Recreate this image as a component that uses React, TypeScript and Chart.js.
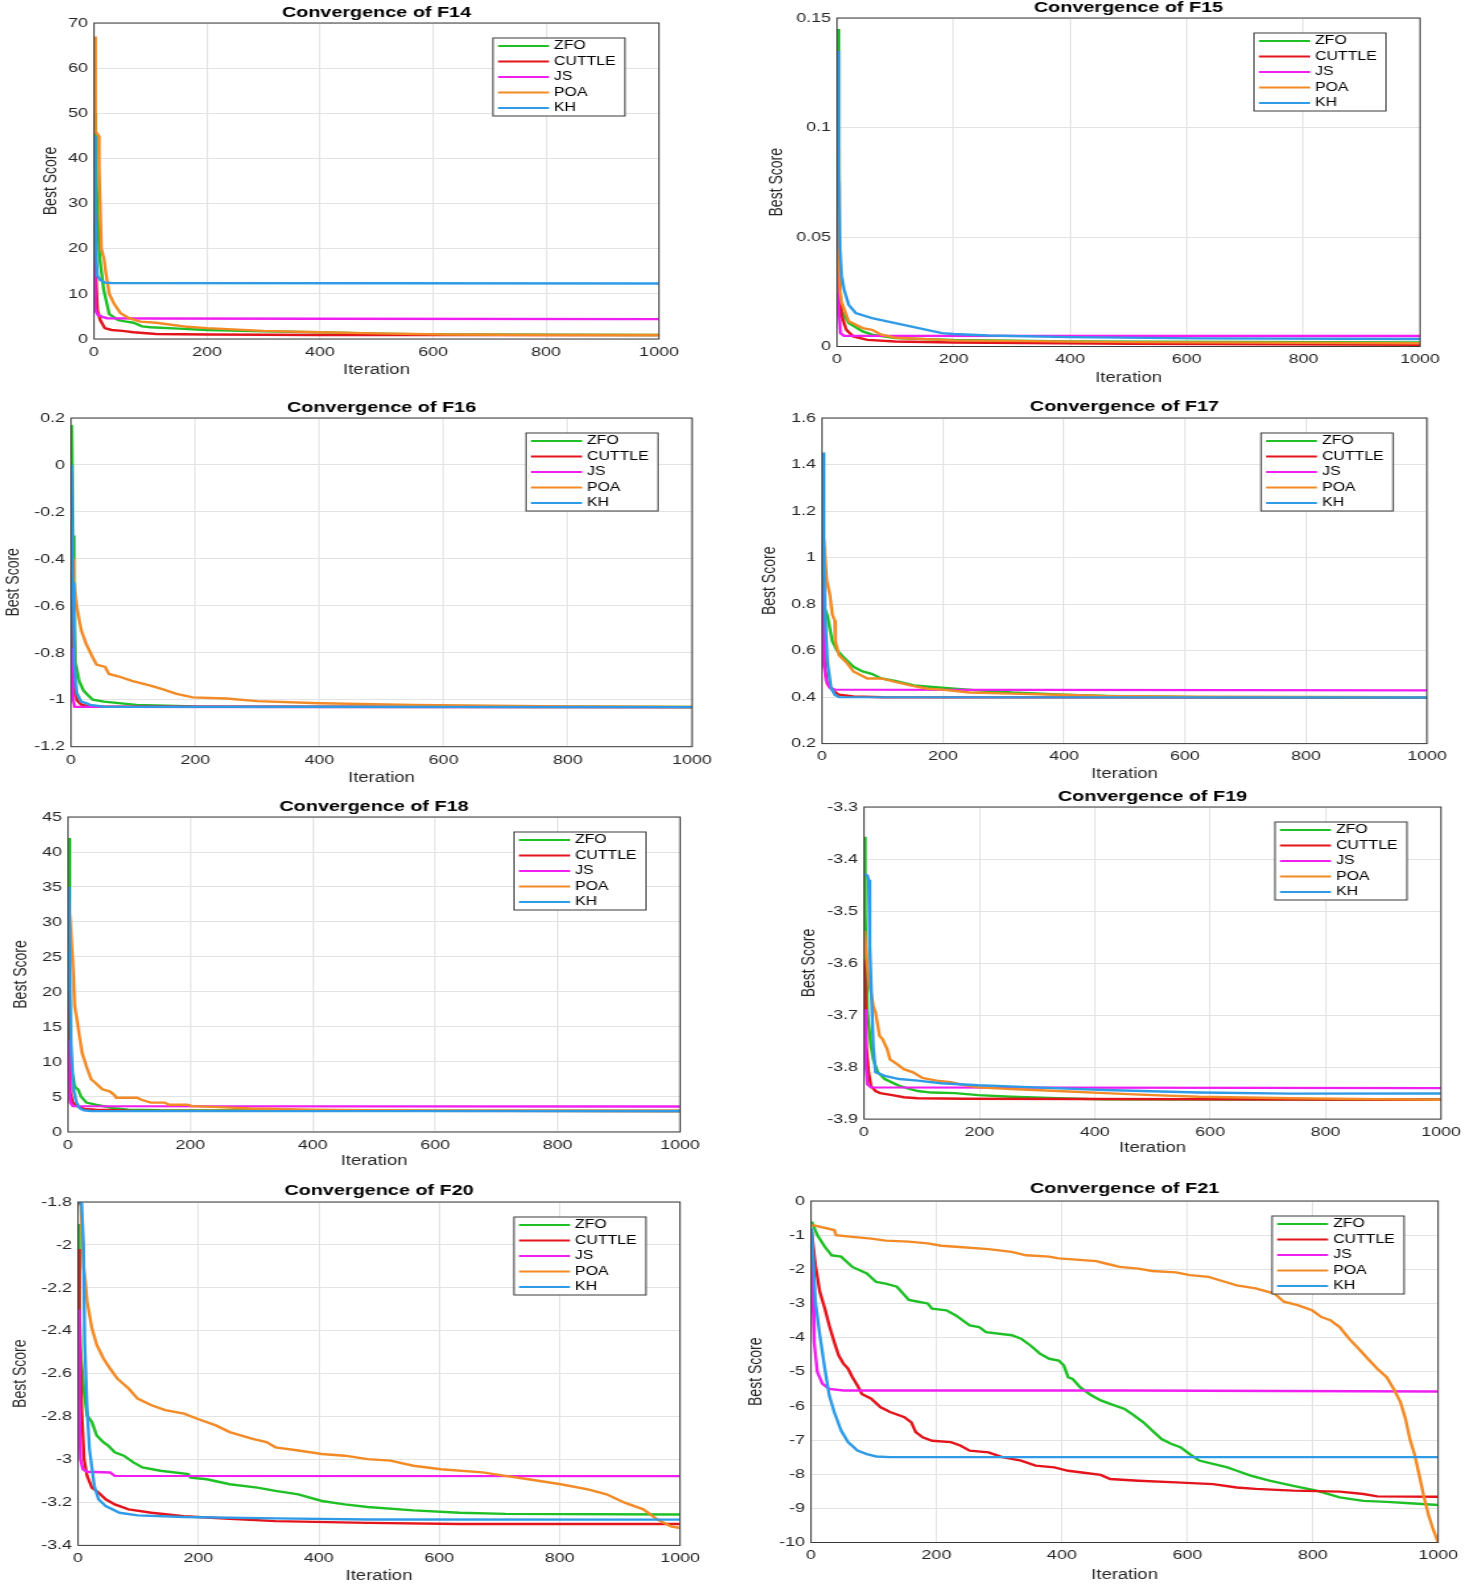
import React, { useEffect, useRef } from 'react';
import { Chart, registerables } from 'chart.js';

Chart.register(...registerables);

// ---------- shared series info ----------
const SERIES_NAMES = ['ZFO', 'CUTTLE', 'JS', 'POA', 'KH'];
const SERIES_COLORS = ['#1fbf26', '#e3141b', '#f01ef0', '#f28a26', '#2f9be6'];
const X_RANGE = [0, 1000, 200]; // min, max, step (iteration ticks)

// ---------- F14 ----------
const F14_Y = [0, 70, 10];
const F14_ZFO = [[1,50],[3,42],[6,28],[10,18],[17,11],[27,5.5],[43,4.2],[55,3.9],[70,3.6],[85,2.8],[100,2.6],[150,2.3],[200,2.0],[300,1.7],[400,1.5],[500,1.2],[600,1.0],[800,0.95],[1000,0.9]];
const F14_CUTTLE = [[1,27.5],[3,15],[6,6.4],[11,4.2],[19,2.4],[31,2.0],[50,1.8],[70,1.5],[110,1.1],[200,1.0],[400,0.9],[1000,0.85]];
const F14_JS = [[1,18.3],[2,7],[4,6],[7,5.3],[15,4.9],[23,4.6],[100,4.55],[400,4.5],[1000,4.4]];
const F14_POA = [[1,67],[2,60],[3,46],[8,45],[9,38],[13,20],[18,17.5],[21,14.6],[27,10],[35,7.9],[47,5.7],[62,4.6],[82,3.85],[110,3.6],[140,3.1],[165,2.7],[200,2.4],[300,1.8],[400,1.5],[500,1.25],[620,1.0],[800,0.9],[1000,0.9]];
const F14_KH = [[1,45],[2,30],[4,18],[6,14],[11,13.1],[19,12.5],[31,12.4],[1000,12.3]];

// ---------- F15 ----------
const F15_Y = [0, 0.15, 0.05];
const F15_ZFO = [[1,0.145],[3,0.05],[5,0.025],[8,0.016],[20,0.0107],[44,0.0069],[60,0.0054],[100,0.0038],[200,0.003],[400,0.0023],[1000,0.0018]];
const F15_CUTTLE = [[1,0.075],[3,0.035],[5,0.022],[8,0.0138],[16,0.0076],[28,0.0046],[52,0.003],[100,0.0023],[200,0.0018],[500,0.0012],[1000,0.0008]];
const F15_JS = [[1,0.054],[2,0.03],[3,0.018],[6,0.0061],[12,0.0049],[1000,0.0048]];
const F15_POA = [[1,0.09],[3,0.04],[5,0.025],[8,0.02],[20,0.0115],[44,0.0084],[60,0.0076],[76,0.0054],[100,0.004],[200,0.0028],[500,0.002],[1000,0.0015]];
const F15_KH = [[1,0.135],[3,0.08],[5,0.045],[8,0.032],[12,0.026],[20,0.019],[32,0.0153],[60,0.013],[100,0.0107],[140,0.0084],[180,0.0061],[200,0.0057],[260,0.005],[400,0.0043],[620,0.0037],[1000,0.0034]];

// ---------- F16 ----------
const F16_Y = [-1.2, 0.2, 0.2];
const F16_ZFO = [[1,0.17],[3,-0.3],[5,-0.6],[7,-0.84],[13,-0.92],[20,-0.96],[27,-0.98],[35,-1.0],[53,-1.008],[105,-1.022],[200,-1.029],[1000,-1.031]];
const F16_CUTTLE = [[1,-0.45],[3,-0.75],[5,-0.92],[9,-1.0],[16,-1.02],[31,-1.03],[1000,-1.0316]];
const F16_JS = [[1,-0.78],[3,-1.0],[6,-1.03],[1000,-1.0316]];
const F16_POA = [[1,-0.25],[3,-0.4],[5,-0.5],[9,-0.6],[16,-0.7],[24,-0.76],[35,-0.82],[41,-0.85],[55,-0.86],[61,-0.89],[76,-0.9],[98,-0.92],[128,-0.94],[147,-0.955],[170,-0.975],[196,-0.99],[250,-0.995],[300,-1.006],[400,-1.015],[550,-1.022],[800,-1.029],[1000,-1.031]];
const F16_KH = [[1,0.0],[3,-0.5],[5,-0.84],[9,-0.97],[16,-1.007],[31,-1.022],[53,-1.03],[1000,-1.0316]];

// ---------- F17 ----------
const F17_Y = [0.2, 1.6, 0.2];
const F17_ZFO = [[1,1.05],[3,0.85],[5,0.78],[9,0.75],[17,0.64],[25,0.6],[36,0.57],[52,0.53],[67,0.51],[82,0.5],[98,0.48],[121,0.47],[152,0.45],[198,0.44],[252,0.43],[314,0.42],[400,0.41],[468,0.405],[620,0.4],[1000,0.398]];
const F17_CUTTLE = [[1,1.078],[3,0.7],[5,0.53],[9,0.457],[17,0.43],[28,0.41],[52,0.403],[100,0.399],[1000,0.398]];
const F17_JS = [[1,0.877],[3,0.55],[7,0.47],[13,0.44],[21,0.432],[1000,0.429]];
const F17_POA = [[1,1.114],[5,1.01],[8,0.9],[13,0.84],[17,0.755],[21,0.73],[22,0.64],[28,0.58],[40,0.55],[52,0.51],[75,0.48],[98,0.48],[121,0.465],[152,0.447],[175,0.436],[198,0.432],[244,0.42],[314,0.415],[391,0.41],[468,0.405],[620,0.402],[1000,0.4]];
const F17_KH = [[1,1.452],[3,1.0],[5,0.77],[9,0.55],[15,0.44],[21,0.41],[28,0.4],[1000,0.398]];

// ---------- F18 ----------
const F18_Y = [0, 45, 5];
const F18_ZFO = [[1,42],[2,30],[3,20],[5,9.4],[11,6.5],[17,6],[21,5.1],[30,4.2],[45,3.9],[75,3.4],[98,3.2],[150,3.1],[400,3.05],[1000,3.0]];
const F18_CUTTLE = [[1,20.2],[2,12],[4,5.6],[8,4.2],[15,3.7],[26,3.3],[45,3.2],[100,3.05],[1000,3.0]];
const F18_JS = [[1,13.2],[2,6],[4,4.2],[8,3.7],[1000,3.65]];
const F18_POA = [[1,33.3],[4,30],[8,24.2],[11,18],[17,14.7],[23,11.3],[30,9.4],[38,7.5],[45,7],[56,6.1],[68,5.8],[75,5.35],[79,4.9],[113,4.9],[120,4.6],[135,4.2],[158,4.2],[165,3.9],[195,3.9],[203,3.7],[248,3.55],[300,3.35],[400,3.2],[490,3.1],[640,3.05],[1000,3.0]];
const F18_KH = [[1,35],[2,28],[5,12.8],[9,6.1],[14,4.2],[19,3.4],[26,3.1],[38,3.0],[1000,2.98]];

// ---------- F19 ----------
const F19_Y = [-3.9, -3.3, 0.1];
const F19_ZFO = [[1,-3.357],[2,-3.5],[6,-3.695],[12,-3.759],[16,-3.785],[24,-3.81],[36,-3.823],[61,-3.836],[93,-3.846],[117,-3.849],[158,-3.85],[198,-3.854],[255,-3.857],[336,-3.86],[417,-3.862],[1000,-3.8628]];
const F19_CUTTLE = [[1,-3.593],[4,-3.759],[8,-3.81],[12,-3.836],[20,-3.846],[28,-3.85],[49,-3.854],[69,-3.858],[93,-3.86],[174,-3.861],[1000,-3.8628]];
const F19_JS = [[1,-3.689],[3,-3.791],[6,-3.833],[12,-3.839],[1000,-3.8405]];
const F19_POA = [[1,-3.538],[4,-3.586],[8,-3.631],[12,-3.657],[16,-3.682],[20,-3.695],[27,-3.74],[32,-3.746],[40,-3.765],[45,-3.785],[53,-3.791],[69,-3.804],[85,-3.81],[101,-3.821],[126,-3.826],[150,-3.829],[166,-3.833],[198,-3.839],[255,-3.842],[336,-3.846],[417,-3.85],[500,-3.854],[580,-3.857],[740,-3.86],[1000,-3.863]];
const F19_KH = [[1,-3.429],[6,-3.432],[8,-3.44],[10,-3.567],[16,-3.759],[20,-3.81],[36,-3.817],[61,-3.823],[93,-3.826],[134,-3.831],[198,-3.835],[296,-3.839],[417,-3.844],[580,-3.849],[740,-3.851],[1000,-3.8507]];

// ---------- F20 ----------
const F20_Y = [-3.4, -1.8, 0.2];
const F20_ZFO = [[1,-1.902],[2,-2.3],[5,-2.528],[10,-2.685],[15,-2.794],[23,-2.825],[31,-2.888],[42,-2.919],[50,-2.935],[61,-2.966],[76,-2.982],[92,-3.013],[107,-3.037],[137,-3.052],[183,-3.068],[187,-3.084],[214,-3.092],[252,-3.115],[298,-3.131],[328,-3.146],[366,-3.162],[405,-3.193],[443,-3.209],[481,-3.221],[557,-3.237],[634,-3.248],[710,-3.253],[1000,-3.256]];
const F20_CUTTLE = [[1,-2.019],[2,-2.4],[6,-2.763],[10,-2.998],[15,-3.076],[23,-3.131],[34,-3.154],[46,-3.185],[61,-3.209],[84,-3.232],[122,-3.248],[176,-3.264],[252,-3.276],[328,-3.287],[481,-3.295],[634,-3.3],[1000,-3.3]];
const F20_JS = [[1,-2.301],[2,-2.763],[4,-2.998],[8,-3.045],[15,-3.057],[53,-3.06],[61,-3.076],[1000,-3.077]];
const F20_POA = [[1,-1.8],[5,-1.82],[9,-2.1],[12,-2.165],[15,-2.262],[23,-2.387],[31,-2.465],[42,-2.528],[53,-2.575],[65,-2.622],[84,-2.669],[99,-2.716],[122,-2.747],[145,-2.77],[176,-2.786],[198,-2.81],[229,-2.841],[252,-2.872],[290,-2.904],[313,-2.919],[328,-2.943],[366,-2.958],[405,-2.974],[443,-2.982],[481,-2.998],[519,-3.005],[557,-3.029],[603,-3.045],[672,-3.06],[710,-3.076],[748,-3.092],[802,-3.115],[847,-3.139],[878,-3.162],[908,-3.201],[939,-3.232],[962,-3.279],[985,-3.311],[1000,-3.319]];
const F20_KH = [[1,-1.8],[6,-1.808],[9,-2.0],[11,-2.45],[15,-2.763],[19,-2.951],[27,-3.123],[34,-3.185],[46,-3.217],[69,-3.248],[99,-3.26],[176,-3.268],[328,-3.274],[481,-3.279],[1000,-3.28]];

// ---------- F21 ----------
const F21_Y = [-10, 0, 1];
const F21_ZFO = [[1,-0.607],[10,-1.0],[22,-1.34],[33,-1.59],[48,-1.63],[66,-1.93],[89,-2.12],[104,-2.37],[119,-2.42],[137,-2.51],[156,-2.9],[171,-2.95],[186,-3.0],[193,-3.15],[216,-3.2],[231,-3.35],[253,-3.64],[268,-3.69],[279,-3.84],[320,-3.93],[335,-4.03],[350,-4.23],[365,-4.47],[380,-4.62],[395,-4.67],[403,-4.81],[410,-5.16],[417,-5.21],[429,-5.45],[447,-5.69],[462,-5.84],[477,-5.94],[500,-6.09],[515,-6.28],[530,-6.48],[544,-6.72],[559,-6.97],[574,-7.11],[589,-7.21],[604,-7.41],[619,-7.6],[641,-7.7],[664,-7.8],[679,-7.9],[701,-8.04],[731,-8.19],[769,-8.34],[806,-8.48],[843,-8.68],[881,-8.78],[918,-8.81],[955,-8.85],[1000,-8.9]];
const F21_CUTTLE = [[1,-0.9],[7,-1.88],[14,-2.66],[22,-3.15],[29,-3.64],[37,-4.13],[44,-4.52],[52,-4.77],[59,-4.91],[66,-5.16],[74,-5.4],[81,-5.65],[96,-5.79],[111,-6.04],[126,-6.18],[149,-6.33],[160,-6.48],[167,-6.77],[178,-6.92],[193,-7.02],[223,-7.06],[238,-7.16],[253,-7.31],[283,-7.36],[305,-7.5],[335,-7.6],[358,-7.75],[388,-7.8],[410,-7.9],[432,-7.95],[462,-8.02],[477,-8.14],[522,-8.19],[582,-8.24],[641,-8.29],[679,-8.39],[709,-8.43],[769,-8.48],[843,-8.51],[881,-8.58],[903,-8.65],[1000,-8.66]];
const F21_JS = [[1,-1.0],[3,-3.0],[5,-4.13],[10,-5.0],[18,-5.35],[29,-5.5],[52,-5.55],[500,-5.55],[1000,-5.58]];
const F21_POA = [[1,-0.7],[37,-0.85],[40,-1.0],[66,-1.05],[96,-1.1],[119,-1.16],[156,-1.19],[186,-1.24],[208,-1.31],[231,-1.34],[283,-1.41],[320,-1.49],[343,-1.59],[380,-1.63],[395,-1.68],[455,-1.76],[470,-1.83],[492,-1.93],[522,-1.98],[544,-2.05],[582,-2.09],[604,-2.17],[634,-2.22],[657,-2.35],[679,-2.47],[709,-2.56],[739,-2.71],[754,-2.95],[776,-3.05],[799,-3.2],[814,-3.4],[828,-3.49],[843,-3.69],[858,-4.03],[873,-4.32],[888,-4.62],[903,-4.91],[918,-5.16],[929,-5.5],[940,-5.89],[948,-6.38],[955,-6.97],[963,-7.46],[970,-8.04],[977,-8.63],[985,-9.22],[992,-9.61],[1000,-10]];
const F21_KH = [[1,-0.8],[7,-2.95],[14,-3.93],[22,-4.91],[29,-5.69],[37,-6.18],[48,-6.72],[59,-7.06],[74,-7.31],[89,-7.41],[104,-7.48],[126,-7.5],[1000,-7.5]];

// ---------- panel layout (page pixels) ----------
const S = 1.32; // horizontal stretch of the reference
const FONT = '"Liberation Sans", Arial, Helvetica, sans-serif';

type PanelCfg = {
  title: string; y: number[]; series: number[][][];
  L: number; R: number; T: number; B: number; tGap: number; xLab: number; yLab: number;
};

const PANELS: PanelCfg[] = [
  { title: 'Convergence of F14', y: F14_Y, series: [F14_ZFO, F14_CUTTLE, F14_JS, F14_POA, F14_KH], L: 94, R: 659, T: 23, B: 339, tGap: 10.3, xLab: 31, yLab: 43 },
  { title: 'Convergence of F15', y: F15_Y, series: [F15_ZFO, F15_CUTTLE, F15_JS, F15_POA, F15_KH], L: 837, R: 1420, T: 18, B: 346.5, tGap: 10, xLab: 32, yLab: 60 },
  { title: 'Convergence of F16', y: F16_Y, series: [F16_ZFO, F16_CUTTLE, F16_JS, F16_POA, F16_KH], L: 71, R: 692, T: 418, B: 746.7, tGap: 10, xLab: 31, yLab: 58 },
  { title: 'Convergence of F17', y: F17_Y, series: [F17_ZFO, F17_CUTTLE, F17_JS, F17_POA, F17_KH], L: 822, R: 1427, T: 418, B: 743.6, tGap: 11, xLab: 31, yLab: 52 },
  { title: 'Convergence of F18', y: F18_Y, series: [F18_ZFO, F18_CUTTLE, F18_JS, F18_POA, F18_KH], L: 68, R: 680, T: 816.6, B: 1131.6, tGap: 10.6, xLab: 29.5, yLab: 47 },
  { title: 'Convergence of F19', y: F19_Y, series: [F19_ZFO, F19_CUTTLE, F19_JS, F19_POA, F19_KH], L: 864, R: 1441, T: 807.4, B: 1119.5, tGap: 10.4, xLab: 29.5, yLab: 54.5 },
  { title: 'Convergence of F20', y: F20_Y, series: [F20_ZFO, F20_CUTTLE, F20_JS, F20_POA, F20_KH], L: 78, R: 680, T: 1201.6, B: 1545, tGap: 11.6, xLab: 31, yLab: 58 },
  { title: 'Convergence of F21', y: F21_Y, series: [F21_ZFO, F21_CUTTLE, F21_JS, F21_POA, F21_KH], L: 810.5, R: 1437.6, T: 1200.5, B: 1542, tGap: 12.5, xLab: 33, yLab: 54.5 },
];

const fmt = (v: number | string) => String(Number(Number(v).toFixed(6)));

const matlabDecor = {
  id: 'matlabDecor',
  afterDraw(chart: any, _args: any, opts: any) {
    const { ctx, chartArea: ca } = chart;
    ctx.save();
    ctx.strokeStyle = '#3a3a3a';
    ctx.lineWidth = 1;
    ctx.strokeRect(ca.left, ca.top, ca.right - ca.left, ca.bottom - ca.top);
    const s = opts.s;
    const w = opts.w / s;
    const h = opts.h;
    const x0 = ca.right - opts.rightGap / s - w;
    const y0 = ca.top + opts.topGap;
    ctx.fillStyle = '#ffffff';
    ctx.fillRect(x0, y0, w, h);
    ctx.strokeStyle = '#3a3a3a';
    ctx.lineWidth = 1;
    ctx.strokeRect(x0, y0, w, h);
    const ds = chart.data.datasets;
    const step = (h - 16) / (ds.length - 1);
    ctx.font = `12px ${FONT}`;
    ctx.textBaseline = 'middle';
    ctx.textAlign = 'left';
    ds.forEach((d: any, i: number) => {
      const y = y0 + 8 + i * step;
      ctx.strokeStyle = d.borderColor;
      ctx.lineWidth = 2.2;
      ctx.beginPath();
      ctx.moveTo(x0 + 5 / s, y);
      ctx.lineTo(x0 + 56 / s, y);
      ctx.stroke();
      ctx.fillStyle = '#000000';
      ctx.fillText(d.label, x0 + 61 / s, y);
    });
    ctx.restore();
  },
};

function Panel({ cfg }: { cfg: PanelCfg }) {
  const ref = useRef<HTMLCanvasElement>(null);
  const LEFT_M = 80, RIGHT_M = 30, TOP_M = 26, BOT_M = 46;
  const boxLeft = cfg.L - LEFT_M;
  const boxTop = cfg.T - TOP_M;
  const cw = Math.round((cfg.R + RIGHT_M - boxLeft) / S);
  const ch = Math.round(cfg.B - cfg.T + TOP_M + BOT_M);
  const yAxisW = LEFT_M / S;
  const plotW = (cfg.R - cfg.L) / S;
  const padR = cw - yAxisW - plotW;
  const plotH = cfg.B - cfg.T;
  const xAxisH = ch - TOP_M - plotH;
  const titlePadTop = TOP_M - cfg.tGap - 9;
  const titlePadBot = TOP_M - 18 - titlePadTop;
  const yTitlePad = (LEFT_M - cfg.yLab) / S - 8.4;
  const xTitlePadBot = ch - 8.4 - (plotH + TOP_M + cfg.xLab);

  useEffect(() => {
    if (!ref.current) return;
    const chart = new Chart(ref.current, {
      type: 'line',
      data: {
        datasets: cfg.series.map((pts, i) => ({
          label: SERIES_NAMES[i],
          data: pts.map(([x, y]) => ({ x, y })),
          borderColor: SERIES_COLORS[i],
          backgroundColor: SERIES_COLORS[i],
          borderWidth: 2.4,
          pointRadius: 0,
          tension: 0,
          fill: false,
          order: SERIES_NAMES.length - 1 - i,
        })),
      },
      options: {
        animation: false,
        responsive: false,
        events: [],
        layout: { padding: { left: 0, right: padR, top: 0, bottom: 0 } },
        plugins: {
          legend: { display: false },
          tooltip: { enabled: false },
          title: {
            display: true,
            text: cfg.title,
            fullSize: false,
            color: '#000000',
            font: { family: FONT, size: 15, weight: 'bold', lineHeight: 1.2 },
            padding: { top: titlePadTop, bottom: titlePadBot },
          },
          matlabDecor: { s: S, w: 132, h: 78, rightGap: 34, topGap: 15 },
        } as any,
        scales: {
          x: {
            type: 'linear',
            min: X_RANGE[0],
            max: X_RANGE[1],
            afterFit: (sc: any) => { sc.height = xAxisH; },
            ticks: { stepSize: X_RANGE[2], color: '#262626', font: { family: FONT, size: 13.5 }, padding: 5, maxRotation: 0, callback: (v: any) => fmt(v) },
            grid: { color: '#e3e3e3', lineWidth: 1, drawTicks: false },
            border: { display: false },
            title: { display: true, text: 'Iteration', color: '#262626', font: { family: FONT, size: 14, lineHeight: 1.2 }, padding: { top: 0, bottom: xTitlePadBot } },
          },
          y: {
            type: 'linear',
            min: cfg.y[0],
            max: cfg.y[1],
            afterFit: (sc: any) => { sc.width = yAxisW; },
            ticks: { stepSize: cfg.y[2], color: '#262626', font: { family: FONT, size: 13.5 }, padding: 4.5, callback: (v: any) => fmt(v) },
            grid: { color: '#e3e3e3', lineWidth: 1, drawTicks: false },
            border: { display: false },
            title: { display: true, text: 'Best Score', color: '#262626', font: { family: FONT, size: 14, lineHeight: 1.2 }, padding: { top: yTitlePad, bottom: 0 } },
          },
        },
      } as any,
      plugins: [matlabDecor as any],
    });
    return () => chart.destroy();
  }, []);

  return (
    <div
      style={{
        position: 'absolute',
        left: boxLeft,
        top: boxTop,
        width: cw,
        height: ch,
        transform: `scaleX(${S})`,
        transformOrigin: '0 0',
      }}
    >
      <canvas ref={ref} width={cw} height={ch} style={{ display: 'block', width: cw, height: ch }} />
    </div>
  );
}

export default function App() {
  return (
    <div style={{ position: 'absolute', left: 0, top: 0, width: 1464, height: 1589, overflow: 'hidden', background: '#ffffff' }}>
      {PANELS.map((p) => (
        <Panel key={p.title} cfg={p} />
      ))}
    </div>
  );
}
